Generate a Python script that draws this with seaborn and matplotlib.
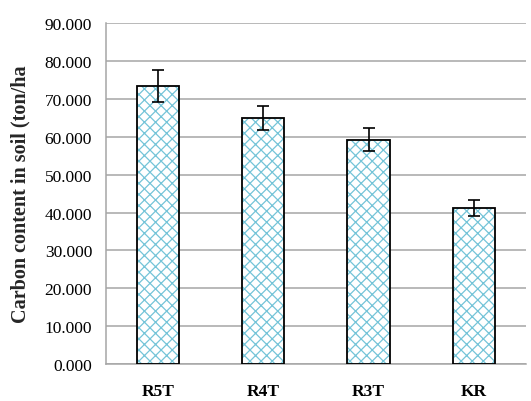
import matplotlib
matplotlib.use("Agg")
import matplotlib.pyplot as plt
import seaborn as sns
import numpy as np

# values
treatments = ["R5T", "R4T", "R3T", "KR"]
carbon = [73.4, 65.0, 59.3, 41.1]
carbon_err = [4.2, 3.1, 3.1, 2.1]

sns.set_style("white")
plt.rcParams["font.family"] = ["Liberation Serif", "DejaVu Serif"]
plt.rcParams["hatch.linewidth"] = 0.9

hatch_blue = "#74c4d8"
grid_grey = "#a6a6a6"

fig = plt.figure(figsize=(5.31, 4.02), dpi=100)
ax = fig.add_axes([0.1996, 0.092, 0.7910, 0.8476])

# hatched fill
sns.barplot(x=treatments, y=carbon, color="white", edgecolor=hatch_blue,
            hatch="xxx", linewidth=0, width=0.4, ax=ax, zorder=2)
# black outline on top
sns.barplot(x=treatments, y=carbon, fill=False, edgecolor="black",
            linewidth=1.3, width=0.4, ax=ax, zorder=3)

ax.errorbar(np.arange(len(treatments)), carbon, yerr=carbon_err, fmt="none",
            ecolor="black", elinewidth=1.2, capsize=4, capthick=1.2, zorder=4)

ax.set_ylim(0, 90)
ax.set_xlim(-0.5, len(treatments) - 0.5)
ax.set_yticks(np.arange(0, 91, 10))
ax.set_yticklabels([f"{v:.3f}" for v in np.arange(0, 91, 10)], fontsize=12.5)
ax.yaxis.grid(True, color=grid_grey, linewidth=1.1, zorder=0)
ax.set_axisbelow(True)

ax.set_xticks(np.arange(len(treatments)))
ax.set_xticklabels(treatments, fontsize=12.5, fontweight="bold")
ax.set_xticks(np.arange(-0.5, len(treatments)), minor=True)
ax.tick_params(axis="x", which="major", length=0, pad=14)
ax.tick_params(axis="x", which="minor", length=5, width=1, direction="out")
ax.tick_params(axis="y", length=5, width=1, direction="out", pad=5)
ax.tick_params(axis="both", which="both", color=grid_grey, labelcolor="black")

for side in ["top", "right"]:
    ax.spines[side].set_visible(False)
for side in ["left", "bottom"]:
    ax.spines[side].set_color(grid_grey)
    ax.spines[side].set_linewidth(1.1)

ax.set_xlabel("")
ax.set_ylabel("Carbon content in soil (ton/ha", fontsize=14.5, fontweight="bold", labelpad=10)

fig.savefig("out.png", dpi=100)
